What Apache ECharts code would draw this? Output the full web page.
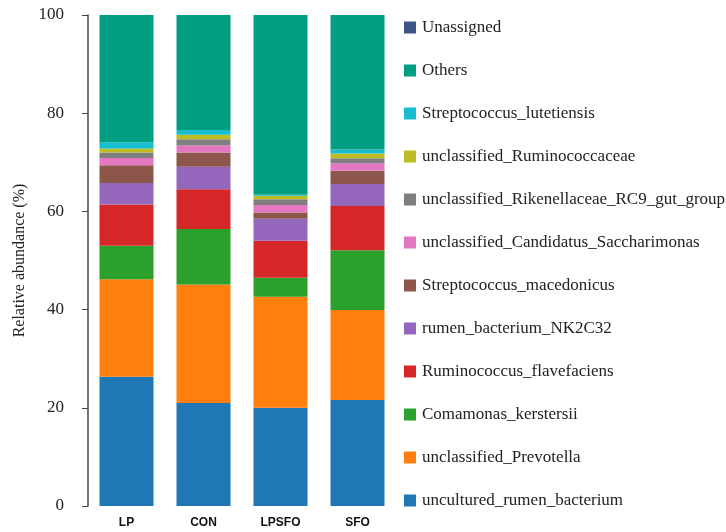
<!DOCTYPE html>
<html>
<head>
<meta charset="utf-8">
<script src="https://cdn.jsdelivr.net/npm/echarts@6/dist/echarts.min.js"></script>
<style>html,body{margin:0;padding:0;background:#fff}#c{width:726px;height:532px}</style>
</head>
<body>
<div id="c"></div>
<script>
const categories = ['LP', 'CON', 'LPSFO', 'SFO'];
const yTicks = [0, 20, 40, 60, 80, 100];

// series listed bottom -> top of stack
const seriesNames = [
  'uncultured_rumen_bacterium',
  'unclassified_Prevotella',
  'Comamonas_kerstersii',
  'Ruminococcus_flavefaciens',
  'rumen_bacterium_NK2C32',
  'Streptococcus_macedonicus',
  'unclassified_Candidatus_Saccharimonas',
  'unclassified_Rikenellaceae_RC9_gut_group',
  'unclassified_Ruminococcaceae',
  'Streptococcus_lutetiensis',
  'Others',
  'Unassigned'
];

const uncultured_rumen_bacterium = [26.3, 21.0, 20.0, 21.6];
const unclassified_Prevotella = [19.9, 24.1, 22.6, 18.3];
const Comamonas_kerstersii = [6.8, 11.3, 3.9, 12.2];
const Ruminococcus_flavefaciens = [8.4, 8.1, 7.5, 9.0];
const rumen_bacterium_NK2C32 = [4.4, 4.6, 4.5, 4.5];
const Streptococcus_macedonicus = [3.6, 2.9, 1.3, 2.7];
const unclassified_Candidatus_Saccharimonas = [1.5, 1.4, 1.5, 1.5];
const unclassified_Rikenellaceae_RC9_gut_group = [1.1, 1.3, 1.2, 1.0];
const unclassified_Ruminococcaceae = [0.8, 0.9, 0.7, 1.0];
const Streptococcus_lutetiensis = [1.3, 1.0, 0.2, 0.8];
const Others = [25.9, 23.4, 36.6, 27.4];
const Unassigned = [0.0, 0.0, 0.0, 0.0];

const seriesValues = [
  uncultured_rumen_bacterium, unclassified_Prevotella, Comamonas_kerstersii,
  Ruminococcus_flavefaciens, rumen_bacterium_NK2C32, Streptococcus_macedonicus,
  unclassified_Candidatus_Saccharimonas, unclassified_Rikenellaceae_RC9_gut_group,
  unclassified_Ruminococcaceae, Streptococcus_lutetiensis, Others, Unassigned
];

const colors = ['#1f77b4', '#ff7f0e', '#2ca02c', '#d62728', '#9467bd', '#8c564b',
  '#e377c2', '#7f7f7f', '#bcbd22', '#17becf', '#009f81', '#3c5488'];

const chart = echarts.init(document.getElementById('c'), null, { renderer: 'canvas' });
chart.setOption({
  animation: false,
  backgroundColor: '#fff',
  grid: { left: 88, width: 308, top: 15, bottom: 26, containLabel: false },
  legend: {
    data: seriesNames.slice().reverse(),
    orient: 'vertical',
    left: 399,
    top: 14,
    itemWidth: 12,
    itemHeight: 12,
    itemGap: 26,
    icon: 'rect',
    textStyle: { fontFamily: 'Liberation Serif', fontSize: 17, color: '#222', padding: [0, 0, 0, 1] }
  },
  xAxis: {
    type: 'category',
    data: categories,
    axisLine: { show: false },
    axisTick: { show: false },
    axisLabel: { fontFamily: 'Liberation Sans', fontWeight: 'bold', fontSize: 12, color: '#111', margin: 11 }
  },
  yAxis: {
    type: 'value',
    min: yTicks[0],
    max: yTicks[yTicks.length - 1],
    interval: yTicks[1] - yTicks[0],
    name: 'Relative abundance (%)',
    nameLocation: 'middle',
    nameGap: 60,
    nameTextStyle: { fontFamily: 'Liberation Serif', fontSize: 16, color: '#222' },
    axisLine: { show: true, lineStyle: { color: '#444', width: 1.5 } },
    axisTick: { show: true, length: 6, lineStyle: { color: '#444', width: 1 } },
    splitLine: { show: false },
    axisLabel: { fontFamily: 'Liberation Serif', fontSize: 17, color: '#222', margin: 24 }
  },
  series: seriesNames.map((n, i) => ({
    name: n,
    type: 'bar',
    stack: 'total',
    barWidth: 54,
    itemStyle: { color: colors[i] },
    data: seriesValues[i]
  }))
});
</script>
</body>
</html>
